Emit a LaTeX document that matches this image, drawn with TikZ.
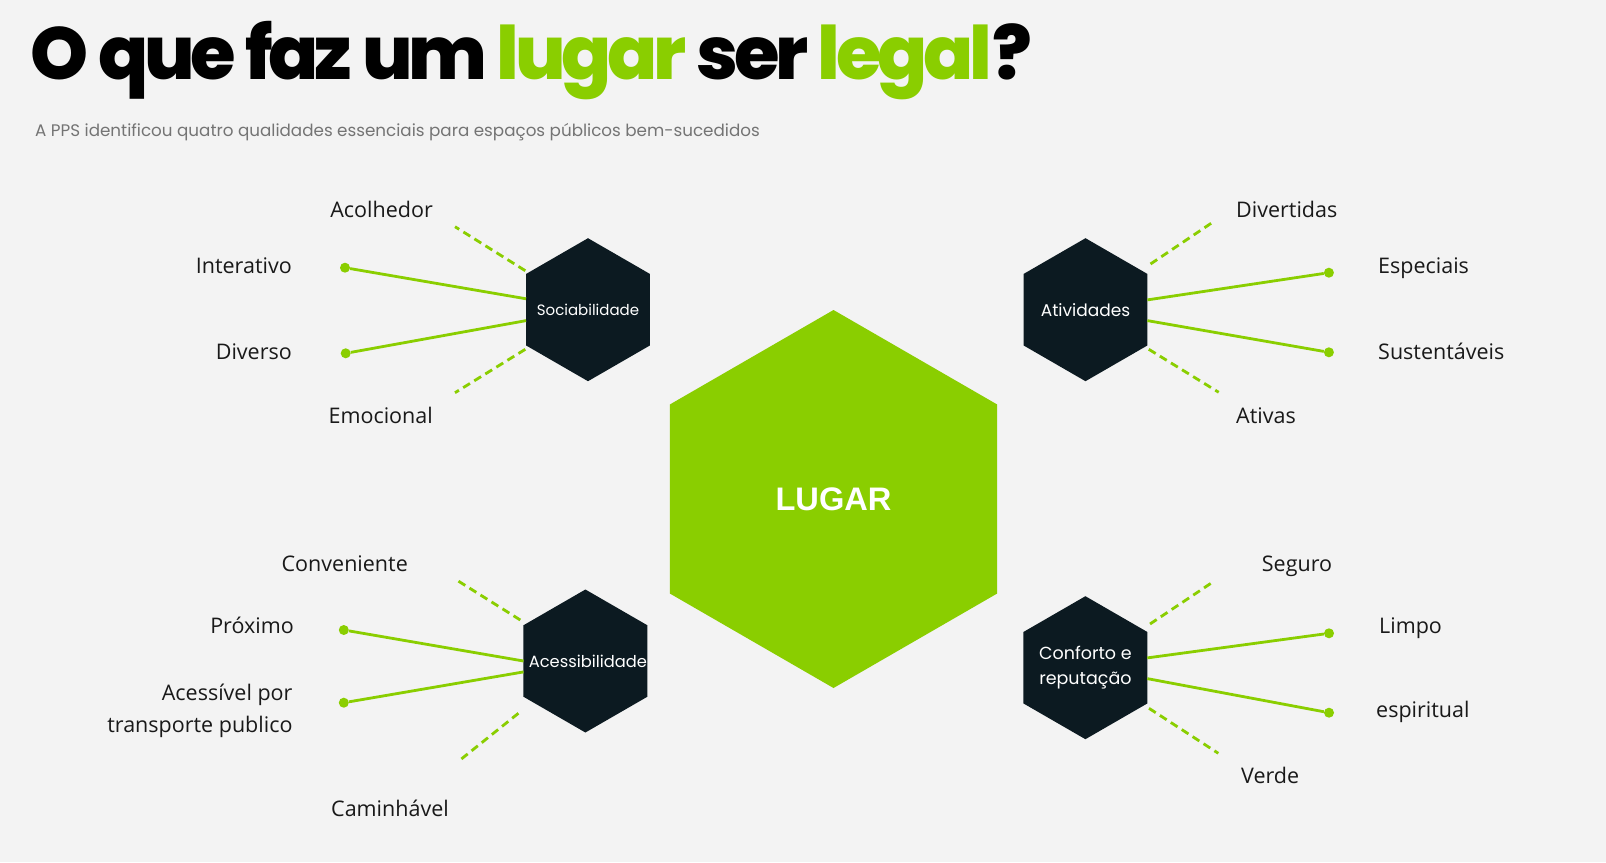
\documentclass[tikz,border=0pt]{standalone}
\usepackage{fontspec}
\setmainfont{Open Sans}
\newfontfamily\popfont{Poppins}
\newfontfamily\popheavy{Poppins ExtraBold}[LetterSpace=-5.8]
\newfontfamily\arialfont{Liberation Sans}
\usepackage{xcolor}
\usepackage{tikz}
\usetikzlibrary{shapes.geometric,positioning,calc}
\definecolor{paper}{HTML}{F3F3F3}
\definecolor{lime}{HTML}{8ACE00}
\definecolor{ink}{HTML}{0C1A21}
\definecolor{subgray}{HTML}{747474}
\tikzset{
  hexa/.style={regular polygon, regular polygon sides=6, shape border rotate=30, minimum size=143pt, inner sep=0pt, outer sep=0pt, fill=ink},
  hexlabel/.style={text=white, align=center, inner sep=0pt, font=\popfont\fontsize{#1}{24.6}\selectfont},
  center hexa/.style={hexa, minimum size=378pt, fill=lime, text=white, font=\arialfont\bfseries\fontsize{32.6}{36}\selectfont},
  leaf/.style={inner sep=0pt, text=black!90, font=\fontsize{21.5}{32.6}\selectfont},
  dot/.style={circle, fill=lime, inner sep=0pt, minimum size=10pt},
  link/.style={lime, line width=2.8pt},
  dashlink/.style={link, dash pattern=on 8pt off 5pt}
}
\begin{document}
\begin{tikzpicture}[x=1pt,y=-1pt]
  \fill[paper] (0,0) rectangle (1606,862);
  \useasboundingbox (0,0) rectangle (1606,862);

  \node[anchor=base west, inner sep=0pt, font=\popheavy\fontsize{73.8}{80}\selectfont] (title) at (30,79)
    {O que faz um \textcolor{lime}{lugar} ser \textcolor{lime}{legal}?};
  \node[anchor=base west, inner sep=0pt, text=subgray, font=\popfont\fontsize{16.75}{20}\selectfont] (subtitle) at (35,136.7)
    {A PPS identificou quatro qualidades essenciais para espaços públicos bem-sucedidos};

  \node[center hexa] (lugar) at (833.5,499) {LUGAR};
  \node[hexa, label={[hexlabel=15]center:Sociabilidade}] (soc) at (588,309.7) {};
  \node[hexa, label={[hexlabel=17]center:Atividades}] (atv) at (1085.5,309.7) {};
  \node[hexa, label={[hexlabel=16.3, xshift=2.5pt]center:Acessibilidade}] (ace) at (585.4,661) {};
  \node[hexa, label={[hexlabel=17.5]center:Conforto e\\reputação}] (con) at (1085.4,667.7) {};

  % sociabilidade
  \node[dot] (int-dot) at (345,267.7) {};
  \node[dot] (div-dot) at (345.7,353.3) {};
  \node[leaf, anchor=base east] (acolhedor) at (433,217) {Acolhedor};
  \node[leaf, anchor=base east] (interativo) at (292,273) {Interativo};
  \node[leaf, anchor=base east] (diverso) at (292,359) {Diverso};
  \node[leaf, anchor=base east] (emocional) at (433,423.5) {Emocional};
  \coordinate (aco-a) at (525.3,270.7);
  \coordinate (aco-b) at (455,226.7);
  \coordinate (emo-a) at (525.3,349.3);
  \coordinate (emo-b) at (455,392.7);
  \draw[link] (soc.170) -- (int-dot);
  \draw[link] (soc.190) -- (div-dot);
  \draw[dashlink] (aco-a) -- (aco-b);
  \draw[dashlink] (emo-a) -- (emo-b);

  % atividades
  \node[dot] (esp-dot) at (1328.9,272.7) {};
  \node[dot] (sus-dot) at (1328.9,352.3) {};
  \node[leaf, anchor=base west] (divertidas) at (1236,217) {Divertidas};
  \node[leaf, anchor=base west] (especiais) at (1378,273.3) {Especiais};
  \node[leaf, anchor=base west] (sustentaveis) at (1378,359) {Sustentáveis};
  \node[leaf, anchor=base west] (ativas) at (1236,423.5) {Ativas};
  \coordinate (dvt-a) at (1150.5,264);
  \coordinate (dvt-b) at (1213.5,221.7);
  \coordinate (atv-a) at (1148.8,349.3);
  \coordinate (atv-b) at (1218.7,392.3);
  \draw[link] (atv.9) -- (esp-dot);
  \draw[link] (atv.-10) -- (sus-dot);
  \draw[dashlink] (dvt-a) -- (dvt-b);
  \draw[dashlink] (atv-a) -- (atv-b);

  % acessibilidade
  \node[dot] (pro-dot) at (343.8,630) {};
  \node[dot] (tra-dot) at (343.8,702.7) {};
  \node[leaf, anchor=base east] (conveniente) at (408,571) {Conveniente};
  \node[leaf, anchor=base east] (proximo) at (294,633.3) {Próximo};
  \node[leaf, anchor=east, align=right] (transporte) at (292.7,710.7) {Acessível por\\transporte publico};
  \node[leaf, anchor=base east] (caminhavel) at (449,816) {Caminhável};
  \coordinate (cnv-a) at (520.3,620);
  \coordinate (cnv-b) at (455.5,579.3);
  \coordinate (cam-a) at (518.4,713.3);
  \coordinate (cam-b) at (459.2,760.7);
  \draw[link] (ace.180) -- (pro-dot);
  \draw[link] (ace.190) -- (tra-dot);
  \draw[dashlink] (cnv-a) -- (cnv-b);
  \draw[dashlink] (cam-a) -- (cam-b);

  % conforto e reputacao
  \node[dot] (lim-dot) at (1329,633.3) {};
  \node[dot] (esr-dot) at (1329,712.7) {};
  \node[leaf, anchor=base west] (seguro) at (1261.7,571.5) {Seguro};
  \node[leaf, anchor=base west] (limpo) at (1379,633.5) {Limpo};
  \node[leaf, anchor=base west] (espiritual) at (1376,717) {espiritual};
  \node[leaf, anchor=base west] (verde) at (1241,783) {Verde};
  \coordinate (seg-a) at (1150,624);
  \coordinate (seg-b) at (1213.3,581.7);
  \coordinate (ver-a) at (1149,708.3);
  \coordinate (ver-b) at (1218.3,753.3);
  \draw[link] (con.9) -- (lim-dot);
  \draw[link] (con.-10) -- (esr-dot);
  \draw[dashlink] (seg-a) -- (seg-b);
  \draw[dashlink] (ver-a) -- (ver-b);
\end{tikzpicture}
\end{document}
